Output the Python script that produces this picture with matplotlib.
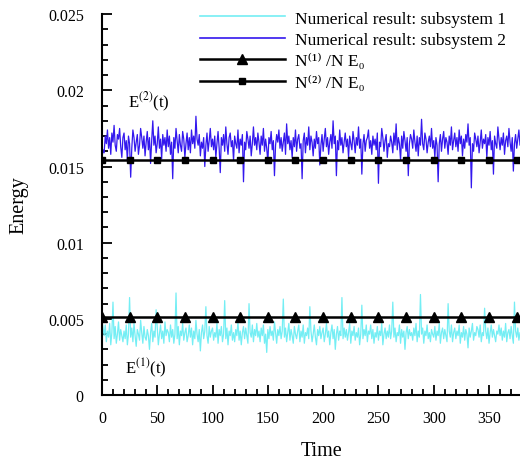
import numpy as np
import matplotlib
matplotlib.use("Agg")
import matplotlib.pyplot as plt
from matplotlib.ticker import MultipleLocator
from matplotlib.lines import Line2D

# subsystem energies, in units of 1e-5, one sample per time unit (t = 0, 1, 2, ...)
sub2 = [
1550,1610,1590,1700,1650,1740,1620,1690,1580,1720,1660,1770,1640,1600,1710,1680,1750,1630,1560,1690,
1720,1610,1670,1540,1700,1650,1430,1620,1740,1690,1600,1660,1710,1580,1640,1750,1690,1620,1700,1570,
1660,1730,1610,1690,1520,1670,1800,1640,1700,1590,1650,1760,1620,1680,1550,1710,1640,1690,1600,1740,
1630,1700,1580,1660,1420,1690,1620,1750,1670,1590,1710,1640,1600,1730,1680,1560,1650,1720,1610,1690,
1590,1740,1650,1700,1620,1830,1680,1640,1710,1570,1660,1620,1690,1500,1640,1720,1600,1670,1750,1630,
1680,1610,1700,1560,1650,1730,1620,1460,1690,1640,1710,1600,1760,1650,1580,1690,1720,1630,1670,1540,
1700,1650,1620,1740,1590,1680,1640,1710,1400,1660,1610,1730,1680,1620,1700,1570,1650,1760,1640,1690,
1610,1720,1660,1580,1700,1640,1750,1600,1680,1620,1530,1690,1650,1730,1610,1670,1440,1640,1710,1660,
1740,1620,1690,1600,1660,1720,1580,1780,1650,1700,1610,1670,1560,1690,1630,1740,1600,1680,1710,1620,
1650,1420,1670,1720,1590,1690,1640,1760,1610,1700,1660,1570,1680,1620,1730,1650,1690,1510,1640,1710,
1600,1680,1750,1630,1690,1580,1660,1710,1620,1800,1650,1700,1440,1670,1610,1740,1640,1690,1590,1660,
1720,1630,1680,1560,1700,1650,1610,1730,1670,1590,1690,1640,1760,1620,1680,1450,1650,1710,1600,1670,
1690,1740,1620,1670,1580,1700,1640,1680,1610,1720,1390,1660,1630,1750,1690,1600,1670,1710,1560,1650,
1630,1700,1660,1590,1720,1640,1780,1610,1690,1650,1540,1700,1620,1730,1670,1600,1690,1440,1650,1710,
1680,1620,1740,1660,1600,1700,1570,1690,1640,1810,1650,1610,1720,1680,1590,1660,1700,1630,1750,1620,
1670,1560,1690,1640,1400,1650,1710,1600,1680,1730,1620,1690,1660,1580,1700,1640,1760,1610,1670,1720,
1630,1690,1600,1740,1650,1700,1570,1680,1620,1710,1660,1780,1640,1690,1360,1650,1600,1720,1680,1630,
1700,1590,1660,1740,1620,1680,1650,1710,1560,1690,1640,1730,1610,1670,1450,1700,1650,1620,1760,1680,
1610,1690,1640,1720,1580,1670,1700,1630,1750,1660,1600,1690,1470,1650,1710,1620,1680,1740,1640,1690,
]

sub1 = [
500,440,390,460,350,420,380,470,330,410,610,370,450,340,400,480,360,430,390,350,
420,370,460,330,400,640,380,440,350,470,390,320,430,400,360,490,410,340,450,380,
360,430,390,300,410,470,350,420,380,560,440,330,400,460,370,420,340,480,390,430,
410,350,460,380,430,340,400,670,370,450,330,420,390,470,360,410,440,350,390,460,
380,440,330,420,370,490,400,350,430,290,410,460,370,420,580,390,340,450,380,420,
440,360,410,380,470,340,430,390,450,350,400,620,370,440,330,420,390,460,360,410,
350,430,390,480,360,420,330,410,450,370,440,390,340,600,410,380,460,350,430,390,
470,380,420,350,440,390,460,340,400,280,430,370,450,390,420,360,480,410,340,430,
390,450,370,420,630,380,440,350,410,470,360,430,390,340,450,400,370,420,460,350,
420,380,460,340,410,390,440,370,580,420,350,400,460,380,330,430,390,450,370,410,
440,350,400,470,380,420,330,410,460,370,430,300,400,450,360,420,390,640,370,440,
380,430,360,410,470,340,420,390,450,360,410,380,440,330,400,590,370,430,390,460,
350,420,400,460,370,430,340,410,380,450,360,420,390,470,330,400,440,370,420,380,
460,370,420,610,380,440,350,410,390,460,340,430,380,420,300,410,450,370,430,390,
410,360,440,390,470,350,420,380,660,400,440,340,420,390,460,370,410,350,430,400,
380,450,360,420,390,470,340,410,440,370,430,390,350,600,420,380,460,350,410,440,
370,420,390,460,340,410,380,450,360,430,400,310,440,380,420,470,360,410,390,450,
430,380,460,350,410,390,570,420,370,440,340,410,460,380,430,390,350,420,400,460,
390,440,360,420,380,470,350,410,430,370,450,390,340,610,420,380,440,360,410,390,
]
value_scale = 1e-5

level1 = 0.00515   # N(1)/N E0
level2 = 0.01545   # N(2)/N E0
marker_times = [0, 25, 50, 75, 100, 125, 150, 175, 200, 225, 250, 275, 300, 325, 350, 375]

legend_labels = ['Numerical result: subsystem 1', 'Numerical result: subsystem 2',
                 'N\u207d\u00b9\u207e /N E\u2080', 'N\u207d\u00b2\u207e /N E\u2080']
ytick_vals = [0, 0.005, 0.01, 0.015, 0.02, 0.025]
ytick_text = ['0', '0.005', '0.01', '0.015', '0.02', '0.025']

cyan = '#74EEF4'
blue = '#3318EE'

plt.rcParams['font.family'] = ['Liberation Serif', 'DejaVu Serif']
plt.rcParams['mathtext.fontset'] = 'stix'

fig = plt.figure(figsize=(5.2, 4.6), dpi=100)
ax = fig.add_axes([0.196, 0.139, 0.804, 0.828])

t = np.arange(len(sub2))
ax.plot(t, np.array(sub1) * value_scale, color=cyan, lw=0.9)
ax.plot(t, np.array(sub2) * value_scale, color=blue, lw=0.9)

tl = np.arange(0, 400)
ax.plot(tl, np.full(len(tl), level1), color='black', lw=1.8)
ax.plot(marker_times, np.full(len(marker_times), level1), ls='none', marker='^',
        color='black', ms=7)
ax.plot(tl, np.full(len(tl), level2), color='black', lw=1.8)
ax.plot(marker_times, np.full(len(marker_times), level2), ls='none', marker='s',
        color='black', ms=4.8)

handles = [
    Line2D([], [], color=cyan, lw=1.2),
    Line2D([], [], color=blue, lw=1.2),
    Line2D([], [], color='black', lw=1.8, marker='^', ms=7),
    Line2D([], [], color='black', lw=1.8, marker='s', ms=4.8),
]
ax.legend(handles, legend_labels, loc='upper left', bbox_to_anchor=(0.234, 1.01),
          frameon=False, fontsize=12.5, handlelength=4.9, handletextpad=0.6,
          labelspacing=0.3, borderaxespad=0, borderpad=0)

ax.text(24, 0.0193, r'E$^{(2)}$(t)', fontsize=12, va='center', ha='left')
ax.text(21, 0.0019, r'E$^{(1)}$(t)', fontsize=12, va='center', ha='left')

ax.set_xlim(0, 378)
ax.set_ylim(0, 0.025)
ax.xaxis.set_major_locator(MultipleLocator(50))
ax.xaxis.set_minor_locator(MultipleLocator(10))
ax.yaxis.set_minor_locator(MultipleLocator(0.001))
ax.set_yticks(ytick_vals)
ax.set_yticklabels(ytick_text)
ax.tick_params(which='both', direction='in', width=1.3, labelsize=11.5)
ax.tick_params(axis='y', which='major', length=7, pad=13)
ax.tick_params(axis='x', which='major', length=7, pad=11)
ax.tick_params(which='minor', length=4)
for s in ['top', 'right']:
    ax.spines[s].set_visible(False)
for s in ['left', 'bottom']:
    ax.spines[s].set_linewidth(1.5)

ax.set_ylabel('Energy', fontsize=14.5)
ax.set_xlabel('Time', fontsize=14.5)
ax.yaxis.set_label_coords(-0.175, 0.5)
ax.xaxis.set_label_coords(0.525, -0.12)

fig.savefig('out.png', dpi=100)
